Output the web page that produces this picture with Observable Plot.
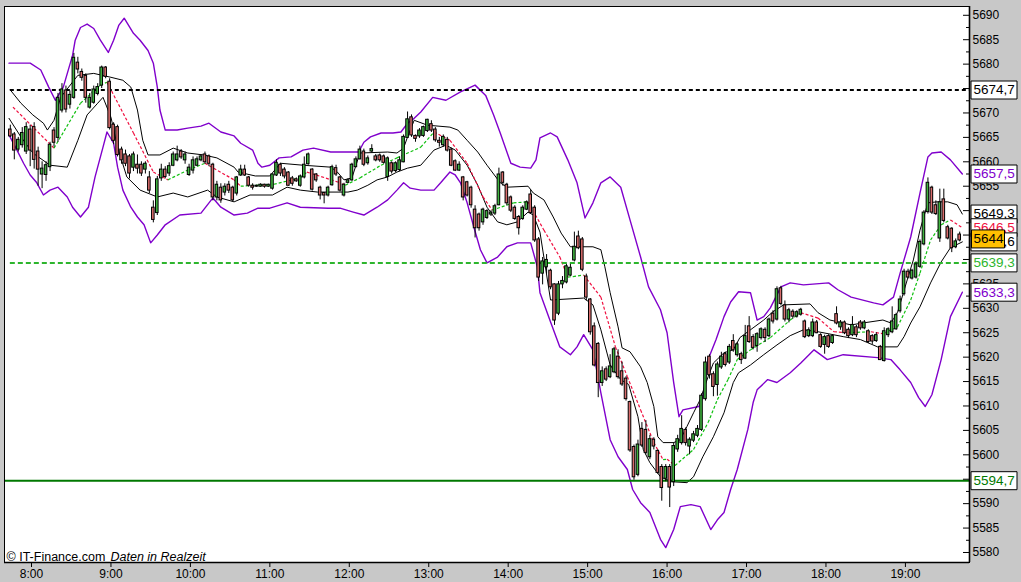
<!DOCTYPE html>
<html><head><meta charset="utf-8">
<script src="https://cdn.jsdelivr.net/npm/d3@7"></script>
<script src="https://cdn.jsdelivr.net/npm/@observablehq/plot@0.6"></script>
<style>
html,body{margin:0;padding:0;background:#c8c8c8;}
#chart svg{display:block;}
</style></head><body><div id="chart"></div>
<script>
// ---------------- DATA ----------------
const candleStart = "7:44";
const candleStepMinutes = 3;
const opens = [
5666.5,5665.5,5662.6,5663.5,5662.2,5666.5,5667.0,5662.0,5657.5,5657.4,
5659.0,5666.3,5665.0,5670.6,5674.5,5671.8,5673.2,5680.2,5678.3,5677.5,
5671.2,5672.2,5674.0,5675.7,5679.2,5676.3,5667.5,5667.0,5662.4,5661.4,
5661.0,5658.9,5659.3,5659.3,5658.5,5656.7,5650.5,5649.6,5656.7,5658.3,
5657.7,5659.3,5660.4,5662.0,5660.4,5657.4,5658.3,5659.3,5660.4,5661.4,
5661.0,5659.3,5652.8,5654.6,5653.8,5655.2,5654.6,5653.6,5657.3,5658.3,
5656.7,5655.0,5655.0,5655.0,5655.2,5655.0,5654.6,5657.3,5659.3,5658.3,
5657.7,5656.5,5656.3,5655.2,5656.9,5659.6,5658.3,5657.3,5654.6,5653.5,
5653.2,5655.3,5658.6,5656.7,5653.2,5655.8,5656.3,5659.0,5660.6,5662.0,
5659.8,5662.2,5661.0,5661.2,5661.0,5657.0,5659.6,5658.2,5658.4,5660.0,
5665.0,5669.0,5665.2,5665.3,5665.4,5666.4,5667.6,5666.5,5664.2,5663.5,
5664.4,5662.4,5660.0,5658.3,5656.7,5655.7,5654.6,5650.1,5649.1,5647.7,
5648.6,5649.3,5649.5,5651.2,5657.7,5655.2,5652.6,5650.5,5648.6,5648.4,
5650.3,5653.2,5650.5,5644.0,5637.2,5638.5,5637.6,5634.8,5629.0,5635.0,
5635.4,5636.8,5639.9,5644.6,5644.0,5636.4,5631.7,5626.2,5622.6,5614.8,
5617.4,5616.0,5617.0,5620.0,5617.0,5615.5,5610.7,5601.5,5596.0,5605.2,
5605.0,5599.6,5603.0,5600.7,5597.4,5595.2,5597.4,5594.5,5601.2,5602.5,
5605.0,5601.8,5603.0,5604.0,5605.2,5611.5,5620.0,5616.4,5614.4,5618.0,
5620.5,5619.0,5623.2,5620.5,5620.5,5619.8,5626.2,5624.0,5622.4,5624.0,
5625.5,5624.4,5628.8,5627.8,5634.0,5630.5,5627.8,5629.2,5628.4,5628.8,
5627.2,5624.4,5624.4,5627.0,5624.4,5622.6,5624.2,5623.0,5628.7,5626.2,
5627.0,5625.5,5624.6,5626.0,5627.0,5626.0,5625.2,5624.2,5623.4,5622.0,
5619.3,5624.6,5625.2,5625.8,5629.5,5633.0,5637.4,5636.2,5636.4,5638.6,
5643.2,5649.8,5654.6,5651.0,5644.4,5652.2,5646.5,5646.2,5642.6,5645.0];
const highs = [
5667.5,5666.0,5665.0,5667.0,5668.0,5667.5,5668.0,5663.0,5660.0,5660.0,
5664.0,5667.0,5674.0,5676.0,5675.5,5674.5,5682.2,5681.4,5679.0,5678.0,
5674.0,5675.5,5676.0,5679.6,5679.5,5677.0,5668.0,5667.5,5663.0,5662.4,
5661.5,5662.0,5661.4,5660.0,5660.0,5658.0,5652.0,5657.0,5659.5,5659.0,
5659.8,5662.0,5663.2,5662.5,5662.0,5659.5,5661.0,5661.0,5661.5,5662.0,
5661.4,5659.7,5656.0,5655.5,5655.5,5656.0,5655.0,5657.0,5659.3,5659.3,
5657.0,5655.5,5655.2,5655.5,5655.4,5655.4,5657.5,5660.4,5659.7,5658.8,
5658.0,5657.0,5656.7,5657.3,5661.0,5661.8,5658.6,5657.6,5655.0,5653.7,
5655.0,5659.3,5659.3,5657.0,5655.6,5656.5,5659.7,5661.0,5663.2,5662.6,
5661.2,5663.5,5661.5,5661.6,5661.4,5661.0,5660.0,5660.0,5661.0,5665.5,
5670.2,5669.6,5665.5,5666.8,5667.3,5668.7,5668.4,5667.0,5665.0,5665.5,
5665.0,5662.8,5660.4,5660.0,5657.0,5656.0,5655.0,5651.0,5649.5,5650.5,
5650.2,5650.0,5651.3,5658.7,5658.0,5655.6,5653.0,5651.0,5649.0,5651.0,
5652.0,5654.2,5651.0,5644.5,5640.4,5641.0,5638.0,5635.0,5635.5,5636.5,
5639.0,5639.0,5645.6,5645.8,5644.5,5637.0,5632.0,5627.0,5623.0,5618.0,
5618.0,5620.5,5622.0,5621.5,5619.0,5616.0,5611.0,5602.0,5603.0,5606.6,
5607.0,5604.0,5603.5,5601.0,5598.0,5598.0,5598.0,5602.5,5604.0,5608.0,
5605.5,5603.5,5604.8,5606.0,5612.5,5620.0,5620.5,5617.0,5619.0,5621.0,
5621.0,5622.6,5624.6,5623.0,5621.0,5626.5,5628.3,5624.6,5625.0,5626.0,
5626.0,5628.0,5629.5,5634.4,5634.5,5631.5,5630.0,5629.7,5629.5,5630.0,
5627.6,5626.0,5627.8,5627.5,5624.8,5624.5,5624.6,5624.6,5630.3,5627.5,
5627.4,5626.0,5628.3,5626.5,5627.5,5627.5,5625.6,5624.6,5625.0,5622.4,
5626.0,5626.0,5630.3,5629.0,5632.5,5638.0,5638.0,5638.0,5639.5,5644.0,
5650.0,5656.7,5655.0,5652.0,5654.4,5654.4,5647.0,5646.5,5644.2,5645.6];
const lows = [
5665.0,5660.4,5662.0,5662.8,5661.5,5659.0,5658.5,5655.0,5654.5,5656.0,
5658.0,5663.0,5664.0,5670.0,5670.0,5670.8,5672.8,5678.0,5676.5,5672.0,
5670.8,5671.8,5673.5,5675.0,5677.0,5666.5,5663.5,5661.0,5659.5,5659.0,
5656.5,5658.0,5657.5,5657.0,5657.5,5653.5,5647.5,5649.0,5656.0,5656.5,
5657.0,5659.0,5660.0,5660.5,5659.5,5657.0,5657.5,5659.0,5660.0,5659.5,
5659.0,5652.0,5652.0,5651.5,5653.0,5653.5,5651.8,5653.0,5657.0,5657.0,
5654.8,5654.2,5654.8,5654.8,5654.6,5654.8,5654.2,5657.0,5657.0,5656.5,
5655.0,5655.0,5655.8,5654.8,5656.5,5659.3,5654.0,5655.8,5652.2,5651.4,
5652.8,5655.0,5657.0,5653.8,5652.8,5655.5,5656.0,5658.8,5660.4,5659.0,
5659.3,5661.8,5660.0,5659.9,5659.5,5656.0,5657.5,5657.8,5658.0,5659.8,
5664.8,5665.0,5664.0,5664.8,5665.0,5666.0,5666.0,5664.0,5663.0,5663.0,
5662.0,5659.0,5658.0,5658.0,5652.0,5652.8,5650.5,5644.4,5645.8,5647.0,
5648.2,5648.8,5649.0,5651.0,5655.0,5651.0,5649.6,5648.0,5645.0,5648.0,
5650.0,5649.3,5643.5,5635.5,5634.8,5637.0,5633.8,5626.5,5628.5,5634.0,
5635.0,5636.5,5639.5,5642.0,5637.5,5631.5,5624.5,5618.0,5611.7,5614.0,
5615.0,5615.6,5616.6,5615.5,5614.0,5611.0,5600.5,5594.8,5595.5,5601.5,
5600.0,5599.0,5601.0,5596.0,5590.5,5594.5,5589.2,5593.5,5600.5,5602.0,
5601.8,5600.0,5602.5,5603.5,5604.8,5611.0,5615.5,5611.9,5612.0,5617.5,
5618.0,5618.5,5621.0,5620.0,5618.5,5619.5,5622.8,5621.5,5621.0,5623.5,
5623.0,5624.0,5626.8,5627.4,5630.5,5627.2,5627.0,5627.8,5628.0,5628.4,
5623.8,5624.0,5624.0,5624.8,5621.8,5620.6,5621.8,5622.6,5626.6,5625.5,
5624.6,5623.8,5624.2,5624.0,5625.5,5625.6,5622.8,5622.6,5623.0,5619.3,
5619.0,5624.0,5624.8,5625.5,5629.0,5632.5,5636.0,5635.8,5636.0,5638.2,
5642.8,5649.3,5649.2,5649.0,5643.5,5647.5,5644.0,5641.4,5642.2,5643.6];
const closes = [
5665.3,5662.4,5664.4,5665.8,5667.0,5662.4,5660.5,5658.5,5658.5,5659.2,
5663.4,5664.0,5673.0,5674.7,5670.8,5673.6,5681.2,5679.0,5677.3,5673.2,
5673.0,5674.7,5675.2,5679.2,5677.5,5667.0,5664.4,5661.5,5660.4,5659.7,
5657.7,5661.4,5658.7,5657.7,5659.5,5654.2,5648.2,5656.3,5658.3,5657.0,
5659.0,5661.4,5661.4,5661.0,5661.4,5658.7,5660.2,5660.4,5661.0,5660.0,
5659.7,5652.8,5655.2,5652.2,5654.8,5654.2,5652.2,5656.7,5658.3,5657.3,
5655.2,5654.8,5655.0,5655.2,5655.0,5655.2,5657.3,5659.7,5657.7,5657.1,
5655.2,5655.6,5656.1,5656.9,5659.3,5661.4,5654.4,5656.3,5653.2,5653.2,
5654.6,5658.8,5657.5,5654.2,5655.2,5656.1,5659.3,5660.4,5662.4,5659.5,
5660.6,5662.5,5660.4,5660.4,5659.9,5660.6,5658.1,5659.6,5660.2,5665.0,
5668.6,5665.5,5664.8,5666.3,5667.0,5668.5,5666.5,5664.5,5664.0,5665.0,
5662.4,5659.3,5658.3,5659.3,5652.8,5653.2,5651.2,5646.5,5646.5,5650.1,
5649.8,5649.5,5650.8,5657.3,5655.8,5651.6,5650.1,5648.4,5646.5,5650.5,
5651.6,5649.6,5644.0,5636.4,5639.5,5639.8,5634.4,5627.6,5634.8,5635.5,
5638.5,5638.2,5642.5,5642.4,5638.0,5632.3,5625.2,5618.4,5614.8,5617.0,
5615.5,5618.0,5621.5,5616.0,5614.5,5611.5,5601.0,5595.5,5602.0,5602.0,
5600.5,5603.1,5601.8,5596.4,5593.3,5597.4,5593.4,5601.7,5603.1,5605.2,
5602.5,5603.0,5604.1,5605.2,5612.0,5618.8,5616.4,5614.0,5618.4,5620.0,
5618.5,5622.0,5621.5,5622.5,5619.5,5624.2,5623.2,5622.0,5624.6,5625.6,
5624.0,5627.6,5627.4,5633.8,5631.0,5627.8,5629.5,5628.4,5629.1,5629.6,
5624.2,5625.4,5627.0,5625.0,5622.2,5624.0,5622.2,5624.2,5627.0,5627.0,
5625.0,5624.4,5626.5,5624.6,5626.0,5627.0,5623.2,5623.3,5624.4,5619.5,
5625.2,5625.6,5627.2,5628.5,5631.7,5637.4,5636.4,5637.6,5638.9,5643.5,
5649.5,5655.6,5649.7,5649.4,5651.6,5648.0,5644.4,5642.4,5643.6,5644.0];

const outerUpperTimes = ["7:43","7:59","8:07","8:13","8:18","8:24","8:31","8:33","8:37","8:42","8:47","8:52","8:58","9:02","9:06","9:10","9:17","9:22","9:28","9:32","9:35","9:37","9:41","9:50","9:58","10:08","10:14","10:23","10:33","10:38","10:47","10:51","10:54","11:00","11:07","11:16","11:25","11:33","11:46","12:07","12:11","12:16","12:24","12:33","12:39","12:44","12:49","12:54","13:03","13:13","13:24","13:35","13:43","13:49","13:54","14:02","14:09","14:17","14:21","14:24","14:32","14:37","14:45","14:52","14:58","15:04","15:10","15:17","15:25","15:32","15:40","15:46","15:55","16:00","16:05","16:09","16:12","16:24","16:27","16:31","16:37","16:43","16:48","16:54","17:03","17:08","17:13","17:18","17:26","17:33","17:43","18:02","18:09","18:19","18:36","18:43","18:51","18:56","19:04","19:11","19:17","19:20","19:27","19:34","19:43"];
const outerUpper = [5680.2,5680.2,5678.8,5675.3,5672.6,5675.3,5681.8,5684.9,5687.5,5688.2,5687.3,5684.9,5682.4,5684.9,5688.0,5689.4,5686.3,5684.9,5682.8,5680.2,5675.3,5670.6,5666.5,5666.5,5666.9,5667.3,5667.9,5666.1,5665.3,5663.8,5662.4,5659.7,5658.9,5659.3,5660.8,5661.0,5662.4,5662.8,5662.0,5662.0,5664.0,5665.1,5665.9,5665.9,5666.1,5667.9,5668.9,5670.2,5673.2,5672.6,5674.3,5675.7,5673.6,5669.6,5665.9,5659.7,5658.9,5658.7,5660.4,5664.9,5665.9,5665.1,5660.4,5655.7,5648.5,5651.6,5655.7,5656.9,5654.8,5648.1,5640.5,5634.4,5629.7,5625.0,5614.8,5607.8,5609.2,5609.9,5611.9,5619.5,5623.6,5628.3,5631.3,5633.4,5633.2,5627.6,5628.3,5630.1,5634.4,5635.2,5634.8,5635.2,5633.8,5632.3,5631.1,5630.7,5632.3,5637.2,5644.6,5653.6,5661.0,5661.8,5662.0,5660.4,5657.5];

const outerLowerTimes = ["7:43","7:49","7:54","7:59","8:04","8:09","8:14","8:20","8:27","8:31","8:37","8:43","8:48","8:54","8:57","9:02","9:05","9:09","9:15","9:20","9:25","9:30","9:35","9:41","9:52","10:08","10:17","10:23","10:33","10:43","10:51","11:00","11:13","11:23","11:44","11:53","12:03","12:11","12:21","12:29","12:36","12:41","12:46","12:54","13:04","13:09","13:16","13:20","13:24","13:29","13:34","13:39","13:44","13:52","13:59","14:07","14:17","14:22","14:24","14:32","14:39","14:47","14:52","14:57","15:04","15:10","15:17","15:23","15:30","15:34","15:40","15:47","15:55","15:59","16:05","16:10","16:18","16:25","16:33","16:38","16:43","16:48","16:53","17:01","17:05","17:08","17:16","17:23","17:33","17:41","17:51","18:01","18:13","18:39","18:49","18:56","19:04","19:10","19:15","19:20","19:27","19:34","19:43"];
const outerLower = [5665.5,5662.4,5659.7,5657.3,5655.7,5653.2,5654.2,5654.8,5652.8,5650.7,5648.7,5650.7,5656.9,5663.0,5666.1,5663.8,5658.9,5654.2,5650.7,5648.7,5647.1,5643.4,5645.0,5647.1,5649.1,5649.5,5652.6,5650.7,5649.1,5649.5,5650.5,5650.5,5651.6,5650.7,5650.5,5650.5,5649.7,5649.1,5650.7,5652.2,5654.2,5655.7,5654.6,5654.2,5654.2,5655.7,5657.9,5657.3,5655.7,5651.6,5646.7,5642.0,5639.3,5640.5,5642.6,5643.4,5643.4,5638.5,5633.2,5627.2,5622.1,5620.5,5622.1,5624.6,5621.5,5612.7,5603.1,5599.6,5597.0,5592.9,5590.2,5588.2,5582.7,5581.0,5584.7,5589.4,5589.8,5589.4,5584.7,5586.7,5588.2,5592.9,5597.0,5605.2,5610.7,5613.3,5615.4,5614.8,5616.8,5618.8,5621.5,5619.5,5620.5,5619.9,5619.5,5617.4,5614.8,5611.7,5609.9,5612.3,5619.5,5628.3,5633.3];

const innerUpperTimes = ["7:44","7:52","8:01","8:09","8:12","8:17","8:22","8:35","8:47","9:00","9:09","9:15","9:20","9:24","9:28","9:37","9:47","9:58","10:10","10:20","10:33","10:36","10:49","11:00","11:08","11:25","11:46","11:51","11:56","12:02","12:08","12:29","12:36","12:41","12:44","12:49","12:59","13:16","13:22","13:29","13:37","13:44","13:54","13:59","14:15","14:19","14:27","14:34","14:40","14:47","15:04","15:10","15:13","15:17","15:23","15:26","15:32","15:40","15:45","15:50","15:53","15:57","16:05","16:10","16:15","16:20","16:25","16:31","16:35","16:43","16:50","16:55","17:03","17:13","17:20","17:28","17:48","17:54","18:03","18:19","18:28","18:43","18:49","18:54","19:02","19:06","19:11","19:17","19:24","19:32","19:39","19:43"];
const innerUpper = [5674.7,5672.0,5669.6,5667.9,5666.5,5668.5,5673.2,5677.7,5678.1,5677.3,5676.7,5675.3,5670.6,5664.4,5661.4,5661.4,5662.8,5661.8,5661.4,5660.8,5658.9,5657.9,5657.1,5657.1,5659.7,5659.3,5658.9,5657.9,5656.3,5656.7,5661.8,5662.0,5661.8,5662.8,5665.1,5668.5,5667.5,5667.1,5666.5,5664.4,5662.0,5659.3,5655.7,5654.8,5655.0,5653.6,5652.2,5648.7,5645.4,5642.6,5642.6,5642.0,5638.5,5633.2,5626.2,5621.9,5621.1,5618.0,5614.8,5609.9,5603.7,5602.5,5602.5,5603.1,5605.8,5608.6,5611.3,5616.0,5618.8,5620.9,5621.5,5624.0,5625.6,5627.6,5629.3,5630.7,5630.9,5629.1,5627.6,5626.6,5627.0,5627.6,5627.0,5629.1,5636.4,5639.9,5646.0,5651.6,5651.8,5651.8,5651.2,5649.3];

const innerLowerTimes = ["7:43","7:52","8:01","8:14","8:27","8:35","8:42","8:50","8:54","9:00","9:05","9:12","9:22","9:35","9:47","9:58","10:13","10:20","10:33","10:45","11:02","11:13","11:23","11:36","11:59","12:06","12:14","12:21","12:29","12:36","12:44","12:54","13:04","13:13","13:20","13:29","13:37","13:44","13:52","13:59","14:07","14:15","14:19","14:24","14:32","14:57","15:04","15:10","15:17","15:25","15:31","15:38","15:42","15:47","15:55","16:03","16:15","16:20","16:27","16:35","16:43","16:50","16:54","17:03","17:13","17:23","17:33","17:43","17:54","18:13","18:26","18:39","18:54","18:59","19:04","19:11","19:19","19:27","19:34","19:43"];
const innerLower = [5668.9,5665.1,5661.8,5659.3,5658.9,5664.4,5669.6,5672.0,5673.2,5669.1,5663.0,5656.9,5654.2,5652.8,5653.6,5652.8,5654.2,5652.8,5651.8,5653.2,5653.2,5654.8,5654.2,5653.8,5653.8,5654.2,5655.2,5656.3,5656.9,5657.9,5658.7,5659.3,5662.4,5663.4,5662.4,5659.3,5655.2,5650.7,5647.7,5647.1,5647.7,5649.7,5649.1,5645.6,5631.7,5632.1,5630.7,5625.6,5618.4,5615.4,5614.4,5607.8,5601.1,5598.4,5595.5,5594.5,5594.3,5595.5,5599.6,5603.7,5608.6,5614.8,5616.8,5618.4,5620.5,5622.5,5624.4,5625.6,5625.2,5624.2,5623.6,5622.1,5622.1,5624.2,5627.0,5630.3,5635.2,5639.5,5642.4,5643.6];

const maTimes = ["7:46","8:17","8:37","8:52","8:57","9:17","9:32","9:43","9:58","10:11","10:33","10:38","11:03","11:23","11:28","11:51","11:57","12:08","12:24","12:36","12:54","13:04","13:16","13:29","13:41","13:48","14:04","14:15","14:27","14:39","14:45","14:49","14:57","15:10","15:21","15:30","15:40","15:50","15:57","16:00","16:06","16:20","16:31","16:38","16:46","16:53","17:03","17:18","17:33","17:41","17:54","18:06","18:16","18:34","18:43","18:54","19:04","19:11","19:19","19:27","19:34","19:43"];
const maValues = [5671.2,5662.8,5672.0,5675.7,5676.3,5665.9,5657.9,5656.3,5658.3,5659.7,5656.3,5655.0,5655.4,5656.7,5657.9,5655.9,5655.2,5656.7,5659.3,5660.8,5663.0,5666.1,5664.4,5659.7,5652.8,5650.1,5651.6,5651.8,5646.0,5640.5,5636.4,5636.5,5636.8,5632.3,5622.1,5616.0,5609.2,5602.5,5599.0,5599.1,5597.8,5601.1,5606.6,5611.3,5615.4,5619.5,5621.5,5624.0,5627.6,5629.1,5628.0,5625.2,5625.0,5625.2,5624.8,5626.2,5631.7,5637.2,5644.0,5647.1,5648.1,5646.5];

const resistanceLevel = 5674.7;
const pivotLevel = 5639.3;
const supportLevel = 5594.7;

const yTickValues = [5580,5585,5590,5595,5600,5605,5610,5615,5620,5625,5630,5635,5640,5645,5650,5655,5660,5665,5670,5675,5680,5685,5690];
// tick labels that stay visible beside the value boxes
const yTickLabelValues = [5580,5585,5590,5600,5605,5610,5615,5620,5625,5630,5635,5655,5660,5665,5670,5680,5685,5690];
const xTickLabels = ["8:00","9:00","10:00","11:00","12:00","13:00","14:00","15:00","16:00","17:00","18:00","19:00"];

const labelValues = [5674.7, 5657.5, 5649.3, 5646.5, 5643.6, 5639.3, 5633.3, 5594.7, 5644];
const labelTexts = ["5674,7","5657,5","5649,3","5646,5","5643,6","5639,3","5633,3","5594,7","5644"];

const captionMain = "© IT-Finance.com";
const captionItalic = "Daten in Realzeit";

// ---------------- STYLE ----------------
const purple = "#8000cc";
const upFill = "#40b440";
const downFill = "#d86c6c";
const maUp = "#11c011";
const maDown = "#f01040";
const pivotGreen = "#2db52d";
const supportGreen = "#007800";
const labelTextColors = ["#000", purple, "#000", "#f01040", "#000", pivotGreen, purple, supportGreen, "#000"];
const labelFills = ["white","white","white","white","white","white","white","white","#ffc000"];

// ---------------- BUILD ----------------
const toMin = s => { const [h, m] = s.split(":").map(Number); return h * 60 + m; };
const t0 = toMin(candleStart);
const candles = closes.map((c, i) => ({t: t0 + i * candleStepMinutes, o: opens[i], h: highs[i], l: lows[i], c}));
const series = (times, values) => times.map((s, i) => ({t: toMin(s), v: values[i]}));
const ou = series(outerUpperTimes, outerUpper);
const ol = series(outerLowerTimes, outerLower);
const iu = series(innerUpperTimes, innerUpper);
const il = series(innerLowerTimes, innerLower);
const maPts = series(maTimes, maValues);
const maSegs = d3.pairs(maPts).map(([a, b]) => ({t1: a.t, v1: a.v, t2: b.t, v2: b.v, up: b.v >= a.v}));
const half = candleStepMinutes / 2;

const xDomain = [459.6, 1188.4];
const yDomain = [5577.95, 5691.8];
const xTicks = xTickLabels.map(toMin);
const xLabelOf = new Map(xTicks.map((t, i) => [t, xTickLabels[i]]));
const yMinor = yTickValues.slice(1).map((v, i) => (v + yTickValues[i]) / 2);

const boxSymbol = {draw(ctx) { ctx.rect(1.5, -9, 46, 18); }};
const smallBoxSymbol = {draw(ctx) { ctx.rect(2, -10, 33, 18); }};

const labels = labelValues.map((v, i) => ({value: v, text: labelTexts[i], color: labelTextColors[i], fill: labelFills[i], small: labelTexts[i].indexOf(",") < 0}));
const labelMarks = labels.flatMap(d => [
  Plot.dot([d], {y: "value", frameAnchor: "right", symbol: d.small ? smallBoxSymbol : boxSymbol, fill: d.fill, stroke: "black", strokeWidth: 1}),
  Plot.text([d], {y: "value", text: "text", frameAnchor: "right", dx: 4, dy: d.small ? -1 : 0, textAnchor: "start", fill: d.color, fontSize: 13.5})
]);

const chart = Plot.plot({
  width: 1021, height: 582,
  marginLeft: 4, marginRight: 52, marginTop: 6, marginBottom: 20,
  x: {type: "linear", domain: xDomain},
  y: {domain: yDomain},
  style: {background: "transparent", fontFamily: "'Liberation Sans', Arial, sans-serif", fontSize: "12px", color: "black", overflow: "visible"},
  marks: [
    Plot.frame({fill: "white"}),
    Plot.line(ou, {x: "t", y: "v", stroke: purple, strokeWidth: 1.4}),
    Plot.line(ol, {x: "t", y: "v", stroke: purple, strokeWidth: 1.4}),
    Plot.line(iu, {x: "t", y: "v", stroke: "black", strokeWidth: 1}),
    Plot.line(il, {x: "t", y: "v", stroke: "black", strokeWidth: 1}),
    Plot.link(maSegs, {x1: "t1", y1: "v1", x2: "t2", y2: "v2", stroke: d => d.up ? maUp : maDown, strokeWidth: 1.2, strokeDasharray: "3,2"}),
    Plot.ruleY([resistanceLevel], {x1: t0, x2: xDomain[1], stroke: "black", strokeWidth: 2, strokeDasharray: "4,3"}),
    Plot.ruleY([pivotLevel], {x1: t0, x2: xDomain[1], stroke: pivotGreen, strokeWidth: 2, strokeDasharray: "5,3"}),
    Plot.ruleY([supportLevel], {x1: xDomain[0], x2: xDomain[1], stroke: supportGreen, strokeWidth: 2}),
    Plot.ruleX(candles, {x: "t", y1: "l", y2: "h", stroke: "black", strokeWidth: 1}),
    Plot.rect(candles, {x1: d => d.t - half, x2: d => d.t + half, y1: "o", y2: "c", fill: d => d.c >= d.o ? upFill : downFill, stroke: "black", strokeWidth: 1, insetLeft: 0.7, insetRight: 0.7, insetTop: -0.5, insetBottom: -0.5}),
    Plot.text([captionMain], {frameAnchor: "bottom-left", dx: 2, dy: -2, textAnchor: "start", lineAnchor: "bottom", fill: "black", fontSize: 12.5}),
    Plot.text([captionItalic], {frameAnchor: "bottom-left", dx: 106, dy: -2, textAnchor: "start", lineAnchor: "bottom", fill: "black", fontSize: 12.5, fontStyle: "italic"}),
    Plot.frame({stroke: "black", strokeWidth: 1}),
    Plot.ruleX([xDomain[1]], {stroke: "black", strokeWidth: 1.6}),
    Plot.ruleY([yDomain[0]], {stroke: "black", strokeWidth: 1.6}),
    Plot.axisX(xTicks, {anchor: "bottom", tickSize: 5, tickPadding: 2, tickFormat: d => xLabelOf.get(d), label: null}),
    Plot.axisY(yTickValues, {anchor: "left", dx: 965, tickSize: 6, tickFormat: () => "", label: null}),
    Plot.axisY(yMinor, {anchor: "left", dx: 965, tickSize: 3, tickFormat: () => "", label: null}),
    Plot.axisY(yTickLabelValues, {anchor: "right", tickSize: 0, tickPadding: 3, tickFormat: d => String(d), label: null}),
    ...labelMarks
  ]
});
document.getElementById("chart").appendChild(chart);
</script>
</body></html>
